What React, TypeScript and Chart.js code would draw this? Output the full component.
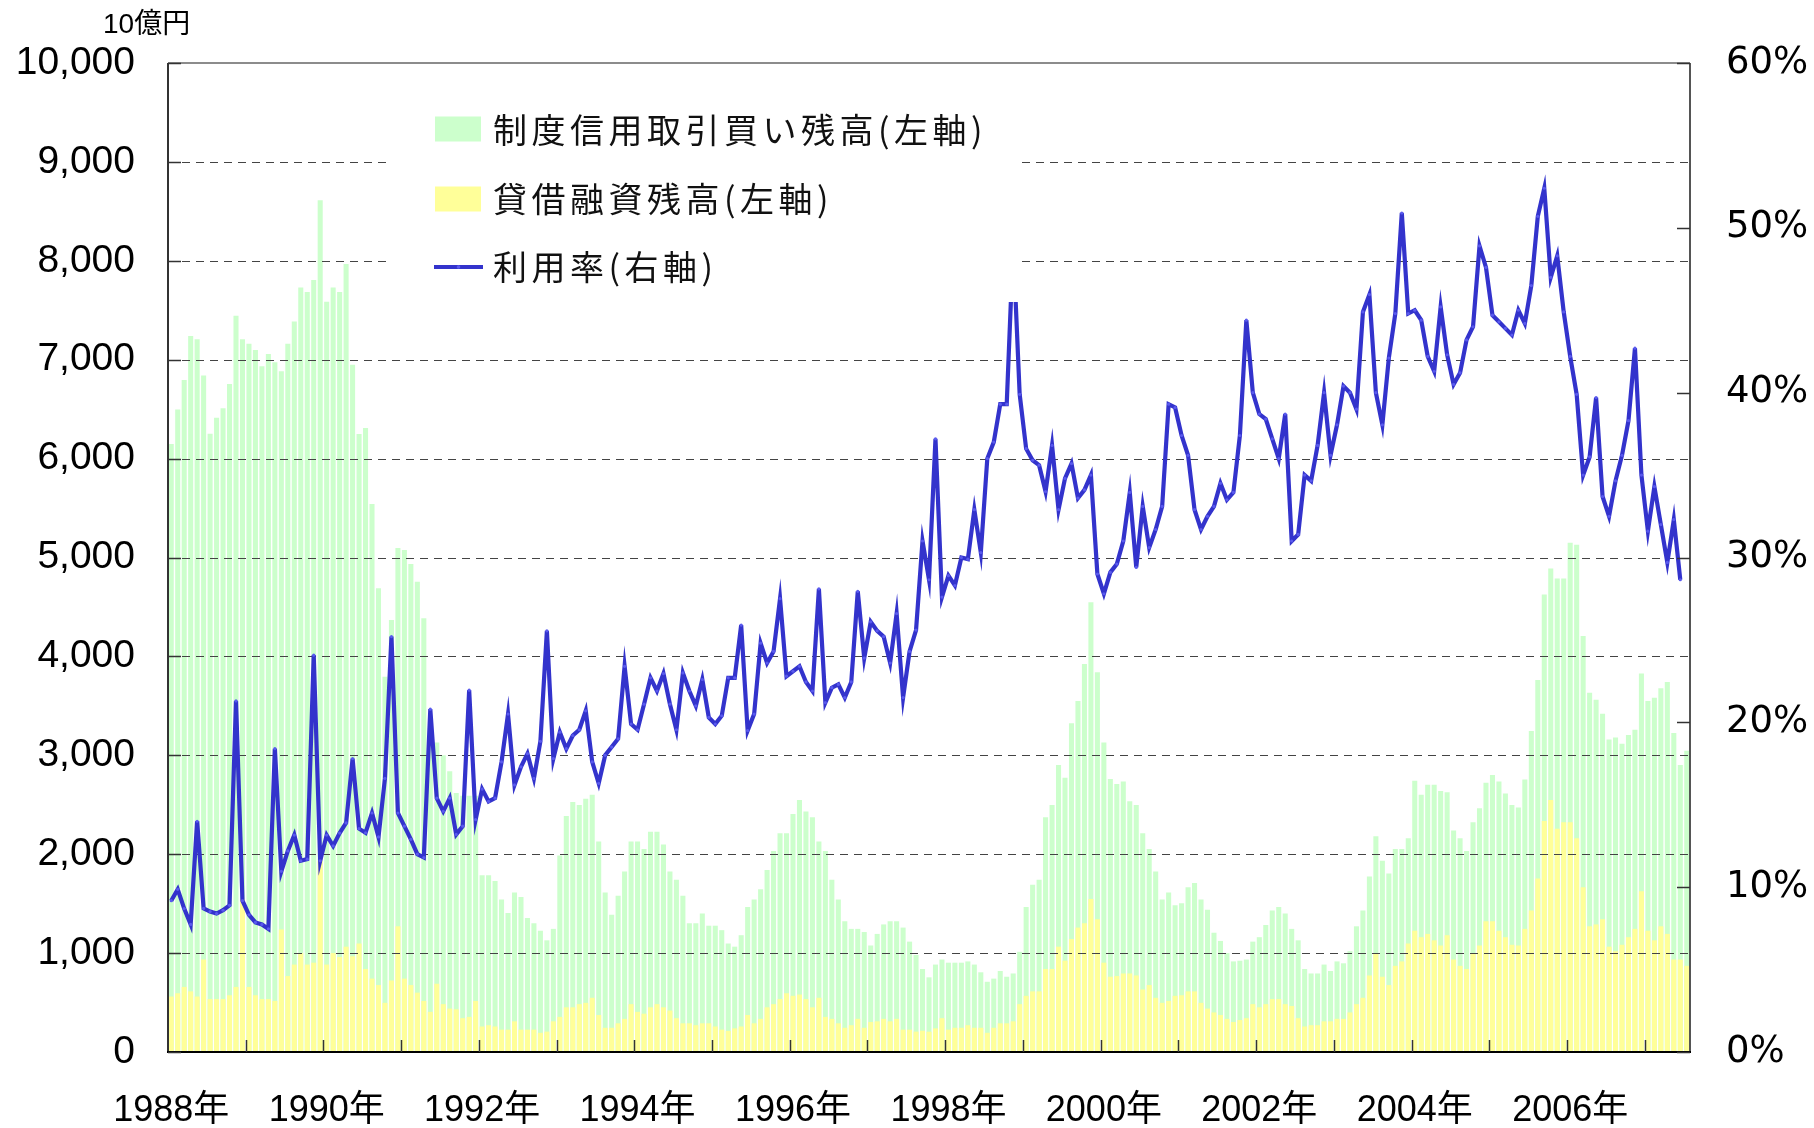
import React, { useEffect, useRef } from 'react';
import { Chart, registerables } from 'chart.js';

Chart.register(...registerables);

// ---- categories (monthly, Jan 1988 - Jul 2007) ----
const startYear = 1988;
const monthCount = 235;
const categories: string[] = [];
for (let i = 0; i < monthCount; i++) {
  categories.push(`${startYear + Math.floor(i / 12)}/${(i % 12) + 1}`);
}

const yearTickLabels = ['1988年', '1990年', '1992年', '1994年', '1996年', '1998年', '2000年', '2002年', '2004年', '2006年'];

// 制度信用取引買い残高 (10億円)
const marginBuyBalance = [
  6148, 6497, 6794, 7239, 7206, 6839, 6252, 6413, 6510, 6755, 7445, 7206, // 1988
  7161, 7097, 6935, 7058, 6974, 6884, 7161, 7387, 7729, 7684, 7806, 8613, // 1989
  7587, 7729, 7684, 7968, 6950, 6250, 6310, 5542, 4690, 3794, 4368, 5097, // 1990
  5077, 4935, 4755, 4387, 3277, 3129, 3000, 2839, 2620, 2590, 2590, 2590, // 1991
  1787, 1787, 1729, 1542, 1406, 1613, 1568, 1355, 1303, 1226, 1129, 1245, // 1992
  1987, 2387, 2529, 2497, 2561, 2600, 2129, 1613, 1387, 1581, 1826, 2129, // 1993
  2129, 2052, 2226, 2226, 2097, 1826, 1742, 1581, 1303, 1303, 1400, 1277, // 1994
  1277, 1232, 1097, 1065, 1181, 1465, 1542, 1645, 1839, 2032, 2213, 2213, // 1995
  2406, 2548, 2432, 2374, 2129, 2032, 1742, 1542, 1323, 1245, 1245, 1213, // 1996
  1077, 1194, 1290, 1323, 1323, 1258, 1116, 981, 839, 755, 884, 935,       // 1997
  903, 903, 903, 916, 884, 806, 710, 742, 819, 761, 794, 1013,             // 1998
  1465, 1690, 1742, 2374, 2497, 2903, 2774, 3323, 3548, 3923, 4548, 3839, // 1999
  3129, 2761, 2710, 2735, 2535, 2497, 2213, 2052, 1826, 1542, 1613, 1484, // 2000
  1503, 1665, 1710, 1542, 1439, 1206, 1123, 1000, 916, 923, 935, 1116,     // 2001
  1161, 1284, 1432, 1465, 1400, 1245, 1129, 839, 794, 794, 884, 819,       // 2002
  916, 897, 1019, 1271, 1432, 1774, 2181, 1935, 1806, 2052, 2052, 2161,    // 2003
  2742, 2600, 2703, 2703, 2639, 2626, 2239, 2161, 2032, 2323, 2465, 2723, // 2004
  2800, 2735, 2613, 2497, 2471, 2755, 3245, 3761, 4626, 4890, 4787, 4787, // 2005
  5148, 5129, 4206, 3632, 3561, 3419, 3161, 3181, 3116, 3206, 3258, 3826, // 2006
  3548, 3581, 3677, 3742, 3226, 2903, 3045,                               // 2007
];

// 貸借融資残高 (10億円)
const loanBalance = [
  561, 594, 658, 613, 561, 935, 535, 535, 535, 574, 658, 1548,
  658, 574, 535, 535, 516, 1239, 768, 884, 1000, 884, 903, 1935,
  884, 1000, 961, 1065, 968, 1097, 839, 742, 677, 497, 723, 1271,
  742, 677, 600, 516, 406, 690, 484, 439, 432, 342, 355, 516,
  258, 271, 258, 226, 226, 310, 226, 226, 226, 194, 206, 310,
  355, 452, 452, 484, 497, 548, 374, 245, 245, 290, 335, 484,
  406, 387, 452, 484, 452, 419, 342, 290, 290, 271, 290, 290,
  258, 226, 213, 239, 258, 374, 290, 335, 452, 484, 535, 594,
  568, 581, 535, 452, 548, 355, 335, 290, 245, 271, 335, 245,
  303, 310, 335, 310, 335, 226, 226, 206, 215, 205, 239, 342,
  226, 245, 245, 271, 245, 245, 194, 245, 290, 290, 310, 484,
  568, 613, 613, 839, 839, 1065, 923, 1142, 1258, 1303, 1548, 1342,
  903, 761, 768, 794, 794, 774, 632, 677, 548, 497, 516, 568,
  574, 613, 613, 497, 439, 400, 374, 335, 303, 323, 342, 484,
  452, 484, 535, 535, 484, 465, 342, 258, 271, 271, 310, 310,
  335, 335, 400, 484, 548, 774, 1000, 761, 677, 871, 916, 1097,
  1226, 1161, 1194, 1129, 1077, 1181, 935, 871, 839, 1000, 1077, 1323,
  1323, 1226, 1161, 1084, 1077, 1245, 1432, 1755, 2335, 2548, 2258, 2323,
  2323, 2161, 1665, 1271, 1290, 1342, 1065, 1019, 1084, 1161, 1245, 1626,
  1226, 1129, 1271, 1194, 935, 935, 871,
];

// 利用率 (%)
const utilizationRate: (number | null)[] = [
  9.18, 9.87, 8.7, 7.74, 14.0, 8.71, 8.52, 8.4, 8.6, 8.9, 21.3, 9.18,
  8.32, 7.86, 7.74, 7.47, 18.4, 10.96, 12.2, 13.16, 11.6, 11.7, 24.08, 11.6,
  13.16, 12.5, 13.28, 13.9, 17.8, 13.55, 13.3, 14.5, 13.05, 16.6, 25.2, 14.5,
  13.7, 12.9, 12.0, 11.8, 20.8, 15.4, 14.6, 15.4, 13.2, 13.7, 21.95, 14.1,
  15.95, 15.2, 15.4, 17.6, 20.5, 16.2, 17.3, 18.1, 16.6, 18.85, 25.55, 17.8,
  19.4, 18.4, 19.2, 19.55, 20.7, 17.6, 16.3, 18.0, 18.5, 19.0, 23.4, 19.9,
  19.55, 21.1, 22.7, 21.9, 22.96, 21.1, 19.55, 23.0, 21.9, 21.0, 22.6, 20.3,
  19.9, 20.4, 22.7, 22.7, 25.9, 19.5, 20.5, 24.8, 23.6, 24.3, 27.5, 22.8,
  23.1, 23.4, 22.45, 21.9, 28.1, 21.2, 22.1, 22.3, 21.5, 22.45, 27.95, 23.9,
  26.1, 25.55, 25.2, 23.6, 26.6, 21.5, 24.3, 25.6, 31.0, 28.65, 37.2, 27.6,
  28.9, 28.3, 30.0, 29.9, 32.9, 30.3, 36.0, 37.0, 39.3, 39.3, 49.0, 39.9,
  36.6, 35.9, 35.6, 34.0, 36.8, 32.9, 34.8, 35.7, 33.6, 34.1, 35.0, 29.0,
  27.8, 29.1, 29.6, 31.0, 33.95, 29.4, 33.1, 30.6, 31.7, 33.1, 39.3, 39.1,
  37.4, 36.2, 32.9, 31.7, 32.5, 33.1, 34.5, 33.5, 33.95, 37.4, 44.4, 40.0,
  38.7, 38.4, 37.2, 36.0, 38.7, 31.0, 31.4, 35.0, 34.65, 36.8, 40.0, 36.2,
  38.05, 40.4, 40.0, 39.0, 44.9, 45.95, 40.0, 38.05, 42.1, 44.8, 50.9, 44.8,
  45.0, 44.4, 42.2, 41.3, 45.2, 42.3, 40.5, 41.2, 43.2, 44.0, 48.9, 47.6,
  44.7, 44.3, 43.9, 43.5, 45.0, 44.2, 46.5, 50.7, 52.4, 47.0, 48.3, 44.9,
  42.2, 39.9, 35.0, 36.1, 39.7, 33.7, 32.5, 34.65, 36.2, 38.3, 42.7, 35.0,
  31.6, 34.3, 32.0, 29.7, 32.3, 28.65, null,
];

const legendLabels = ['制度信用取引買い残高(左軸)', '貸借融資残高(左軸)', '利用率(右軸)'];
const unitLabel = '10億円';

const GREEN = '#ccffcc';
const YELLOW = '#ffff99';
const BLUE = '#3333cc';
const LATIN = "'Liberation Sans', 'Noto Sans CJK JP', sans-serif";
const CJK = "'Noto Sans CJK JP', sans-serif";

const decorPlugin = {
  id: 'decor',
  afterDatasetDraw(chart: any, args: any) {
    if (args.index !== 1) return; // after the yellow bars, before the line
    const { ctx, chartArea: a } = chart;
    const y = chart.scales.y;
    ctx.save();
    ctx.strokeStyle = '#444';
    ctx.lineWidth = 1;
    ctx.setLineDash([8, 6]);
    y.ticks.forEach((t: any) => {
      if (t.value <= y.min || t.value >= y.max) return;
      const py = Math.round(y.getPixelForValue(t.value)) + 0.5;
      ctx.beginPath();
      ctx.moveTo(a.left, py);
      ctx.lineTo(a.right, py);
      ctx.stroke();
    });
    ctx.restore();
  },
  afterDatasetsDraw(chart: any) {
    const { ctx, chartArea: a } = chart;
    const xs = chart.scales.x;
    const y = chart.scales.y;
    const y2 = chart.scales.y2;
    ctx.save();
    ctx.setLineDash([]);

    // legend box (white, covers grid and line)
    ctx.fillStyle = '#ffffff';
    ctx.fillRect(391, a.top + 1, 1019 - 391, 302 - a.top - 1);

    const rows = [130, 199, 267];
    // swatches
    ctx.fillStyle = GREEN;
    ctx.fillRect(435, rows[0] - 13.5, 46, 25);
    ctx.fillStyle = YELLOW;
    ctx.fillRect(435, rows[1] - 12.5, 46, 25);
    ctx.strokeStyle = BLUE;
    ctx.lineWidth = 4;
    ctx.beginPath();
    ctx.moveTo(434, rows[2]);
    ctx.lineTo(483, rows[2]);
    ctx.stroke();
    ctx.fillStyle = '#5a5aee';
    ctx.beginPath();
    ctx.arc(458.5, rows[2], 1.8, 0, Math.PI * 2);
    ctx.fill();

    ctx.fillStyle = '#111';
    ctx.font = `normal 34px ${CJK}`;
    ctx.textAlign = 'left';
    ctx.textBaseline = 'middle';
    try { (ctx as any).letterSpacing = '4.5px'; } catch (e) {}
    legendLabels.forEach((t, i) => ctx.fillText(t, 493, rows[i]));
    try { (ctx as any).letterSpacing = '0px'; } catch (e) {}

    // frame
    ctx.lineWidth = 2;
    ctx.strokeStyle = '#8c8c8c';
    ctx.beginPath();
    ctx.moveTo(a.left, a.top);
    ctx.lineTo(a.right, a.top);
    ctx.stroke();
    ctx.strokeStyle = '#555';
    ctx.beginPath();
    ctx.moveTo(a.right, a.top);
    ctx.lineTo(a.right, a.bottom);
    ctx.stroke();
    ctx.strokeStyle = '#333';
    ctx.beginPath();
    ctx.moveTo(a.left, a.top);
    ctx.lineTo(a.left, a.bottom);
    ctx.stroke();
    ctx.strokeStyle = '#000';
    ctx.beginPath();
    ctx.moveTo(a.left - 1, a.bottom);
    ctx.lineTo(a.right + 1, a.bottom);
    ctx.stroke();

    // tick marks (inward)
    ctx.lineWidth = 1.5;
    ctx.strokeStyle = '#333';
    y.ticks.forEach((t: any) => {
      const py = Math.round(y.getPixelForValue(t.value)) + 0.5;
      ctx.beginPath();
      ctx.moveTo(a.left, py);
      ctx.lineTo(a.left + 13, py);
      ctx.stroke();
    });
    y2.ticks.forEach((t: any) => {
      const py = Math.round(y2.getPixelForValue(t.value)) + 0.5;
      ctx.beginPath();
      ctx.moveTo(a.right - 13, py);
      ctx.lineTo(a.right, py);
      ctx.stroke();
    });
    for (let k = 12; k < categories.length; k += 12) {
      const px = Math.round((xs.getPixelForValue(k - 1) + xs.getPixelForValue(k)) / 2) + 0.5;
      ctx.beginPath();
      ctx.moveTo(px, a.bottom);
      ctx.lineTo(px, a.bottom - 12);
      ctx.stroke();
    }

    // unit label
    ctx.fillStyle = '#000';
    ctx.font = `28px ${LATIN}`;
    ctx.textAlign = 'left';
    ctx.textBaseline = 'middle';
    ctx.fillText(unitLabel, 103, 25);
    ctx.restore();
  },
};

export default function App() {
  const canvasRef = useRef<HTMLCanvasElement | null>(null);

  useEffect(() => {
    if (!canvasRef.current) return;
    const chart = new Chart(canvasRef.current, {
      type: 'bar',
      data: {
        labels: categories,
        datasets: [
          {
            type: 'bar',
            label: legendLabels[0],
            data: marginBuyBalance,
            backgroundColor: GREEN,
            borderWidth: 0,
            grouped: false,
            order: 2,
            yAxisID: 'y',
            categoryPercentage: 1,
            barPercentage: 0.78,
          } as any,
          {
            type: 'bar',
            label: legendLabels[1],
            data: loanBalance,
            backgroundColor: YELLOW,
            borderWidth: 0,
            grouped: false,
            order: 1,
            yAxisID: 'y',
            categoryPercentage: 1,
            barPercentage: 0.78,
          } as any,
          {
            type: 'line',
            label: legendLabels[2],
            data: utilizationRate,
            borderColor: BLUE,
            backgroundColor: BLUE,
            borderWidth: 4.2,
            pointRadius: 1.6,
            pointBorderWidth: 0,
            pointBackgroundColor: '#5a5aee',
            tension: 0,
            spanGaps: false,
            order: 0,
            yAxisID: 'y2',
          } as any,
        ],
      },
      options: {
        animation: false,
        responsive: false,
        devicePixelRatio: 1,
        layout: { padding: { top: 63, left: 0, right: 0, bottom: 0 } },
        plugins: { legend: { display: false }, tooltip: { enabled: false } },
        scales: {
          x: {
            type: 'category',
            offset: true,
            grid: { display: false, drawTicks: false },
            border: { display: false },
            ticks: {
              autoSkip: false,
              maxRotation: 0,
              minRotation: 0,
              padding: 37,
              color: '#000',
              font: { family: LATIN, size: 36 },
              callback: (_v: any, index: number) => (index % 24 === 0 ? yearTickLabels[index / 24] : ''),
            },
            afterFit: (s: any) => { s.height = 76; },
          },
          y: {
            position: 'left',
            min: 0,
            max: 10000,
            grid: { display: false, drawTicks: false },
            border: { display: false },
            ticks: {
              stepSize: 1000,
              padding: 33,
              color: '#000',
              font: { family: LATIN, size: 39 },
              callback: (v: any) => Number(v).toLocaleString('en-US'),
            },
            afterFit: (s: any) => { s.width = 168; },
          },
          y2: {
            position: 'right',
            min: 0,
            max: 60,
            grid: { display: false, drawTicks: false },
            border: { display: false },
            ticks: {
              stepSize: 10,
              padding: 36,
              color: '#000',
              font: { family: "'DejaVu Sans', sans-serif", size: 37 },
              callback: (v: any) => `${v}%`,
            },
            afterFit: (s: any) => { s.width = 124; },
          },
        },
      } as any,
      plugins: [decorPlugin],
    });
    return () => chart.destroy();
  }, []);

  return (
    <div style={{ position: 'absolute', left: 0, top: 0, width: 1814, height: 1128, background: '#fff' }}>
      <canvas ref={canvasRef} width={1814} height={1128} style={{ display: 'block' }} />
    </div>
  );
}
